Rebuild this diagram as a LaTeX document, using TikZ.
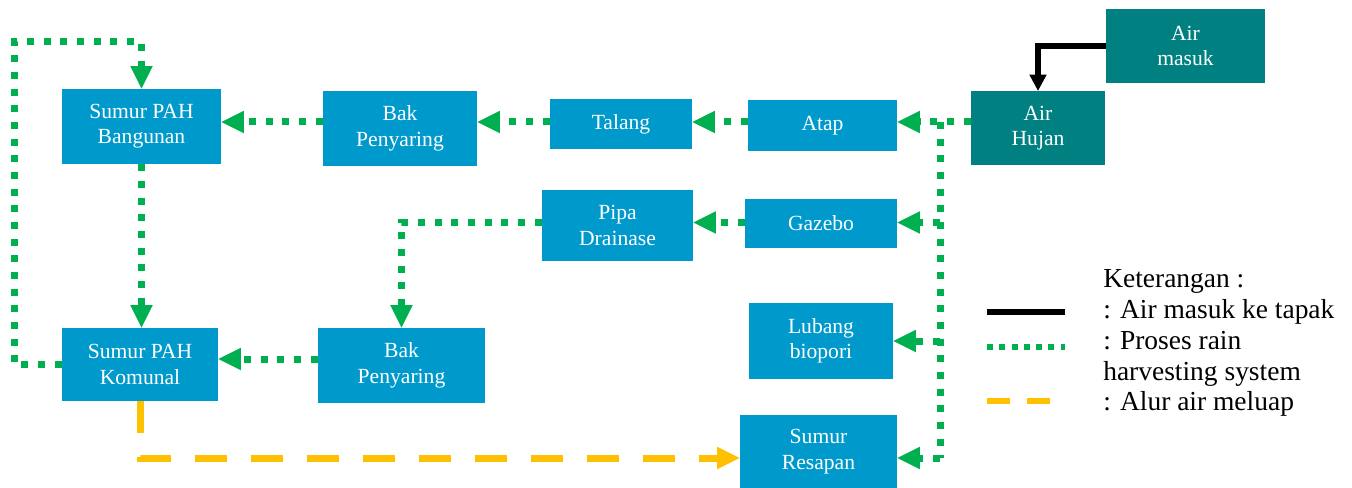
\documentclass[tikz,border=0pt]{standalone}
\usepackage{fontspec}
\setmainfont{Liberation Serif}
\usetikzlibrary{arrows.meta}
\definecolor{boxblue}{HTML}{0099CC}
\definecolor{boxteal}{HTML}{008080}
\definecolor{flowgreen}{HTML}{00B050}
\definecolor{flowyellow}{HTML}{FFC000}
\tikzset{
 box/.style={fill=boxblue, inner sep=0pt, text=white, align=center, font=\fontsize{16.2}{19}\selectfont},
 tbox/.style={box, fill=boxteal},
 gline/.style={draw=flowgreen, line width=5.25pt, dash pattern=on 5.25pt off 7.25pt},
 gflow/.style={gline, -{Triangle[length=17pt,width=17pt,line width=0pt]}},
 yline/.style={draw=flowyellow, line width=5.25pt, dash pattern=on 24pt off 18pt},
 yflow/.style={yline, -{Triangle[length=17pt,width=17pt,line width=0pt]}},
 bline/.style={draw=black, line width=4.5pt},
 bflow/.style={bline, -{Triangle[length=12pt,width=13pt,line width=0pt]}},
 legtext/.style={anchor=base west, inner sep=0pt, font=\fontsize{20.6}{23}\selectfont},
}
\begin{document}
\begin{tikzpicture}[x=0.75pt,y=-0.75pt]
\useasboundingbox (0,0) rectangle (1352,488);
% boxes
\node[box, minimum width=119.25pt, minimum height=56.25pt] (bang) at (141.5,126.5) {Sumur PAH\\Bangunan};
\node[box, minimum width=115.5pt, minimum height=56.25pt] (bak1) at (400,128.5) {Bak\\Penyaring};
\node[box, minimum width=106.5pt, minimum height=37.5pt] (talang) at (621,124) {Talang};
\node[box, minimum width=111.75pt, minimum height=38.25pt] (atap) at (822.5,125.5) {Atap};
\node[box, minimum width=113.25pt, minimum height=53.25pt] (pipa) at (617.5,225.5) {Pipa\\Drainase};
\node[box, minimum width=114pt, minimum height=36.75pt] (gazebo) at (821,223.5) {Gazebo};
\node[tbox, minimum width=100.5pt, minimum height=55.5pt] (hujan) at (1038,128) {Air\\Hujan};
\node[tbox, minimum width=119.25pt, minimum height=55.5pt] (masuk) at (1185.5,46) {Air\\masuk};
\node[box, minimum width=117pt, minimum height=54.75pt] (komunal) at (140,364.5) {Sumur PAH\\Komunal};
\node[box, minimum width=125.25pt, minimum height=56.25pt] (bak2) at (401.5,365.5) {Bak\\Penyaring};
\node[box, minimum width=108pt, minimum height=57pt] (lubang) at (821,341) {Lubang\\biopori};
\node[box, minimum width=117.75pt, minimum height=54.75pt] (resapan) at (818.5,451.5) {Sumur\\Resapan};
% helper coordinates
\coordinate (r1) at (0,122);
\coordinate (r2) at (0,222.5);
\coordinate (r3) at (0,359);
\coordinate (r4) at (0,458);
\coordinate (j1) at (940,122);
\coordinate (j2) at (940,458);
\coordinate (lp) at (14,42);
% black
\draw[bflow] (masuk.west) -| (hujan.north);
% green top row
\draw[gflow] (hujan.west |- r1) -- (atap.east |- r1);
\draw[gflow] (atap.west |- r1) -- (talang.east |- r1);
\draw[gflow] (talang.west |- r1) -- (bak1.east |- r1);
\draw[gflow] (bak1.west |- r1) -- (bang.east |- r1);
% branch
\draw[gline] (j1) -- (j2);
\draw[gflow] (j1 |- r2) -- (gazebo.east |- r2);
\draw[gflow] (j1 |- lubang.east) -- (lubang.east);
\draw[gflow] (j2) -- (resapan.east |- j2);
% middle
\draw[gflow] (gazebo.west |- r2) -- (pipa.east |- r2);
\draw[gflow] (pipa.west |- r2) -| (bak2.north);
\draw[gflow] (bang.south) -- (bang.south |- komunal.north);
\draw[gflow] (bak2.west |- r3) -- (komunal.east |- r3);
\draw[gflow] (komunal.west) -| (lp) -| (bang.north);
% yellow
\draw[yflow] (komunal.south) |- (resapan.west |- r4);
% legend
\coordinate (la1) at (987,312); \coordinate (la2) at (1065,312);
\coordinate (lb1) at (987,347); \coordinate (lb2) at (1065,347);
\coordinate (lc1) at (987,401); \coordinate (lc2) at (1052,401);
\draw[bline] (la1) -- (la2);
\draw[draw=flowgreen, line width=4.5pt, dash pattern=on 4.5pt off 4.7pt] (lb1) -- (lb2);
\draw[draw=flowyellow, line width=4.5pt, dash pattern=on 17.25pt off 12.75pt] (lc1) -- (lc2);
\node[legtext] (lt1) at (1103,287) {Keterangan :};
\node[legtext] (lt2) at (1103,318) {: Air masuk ke tapak};
\node[legtext] (lt3) at (1103,349) {: Proses rain};
\node[legtext] (lt4) at (1103,380) {harvesting system};
\node[legtext] (lt5) at (1103,410) {: Alur air meluap};
\end{tikzpicture}
\end{document}
